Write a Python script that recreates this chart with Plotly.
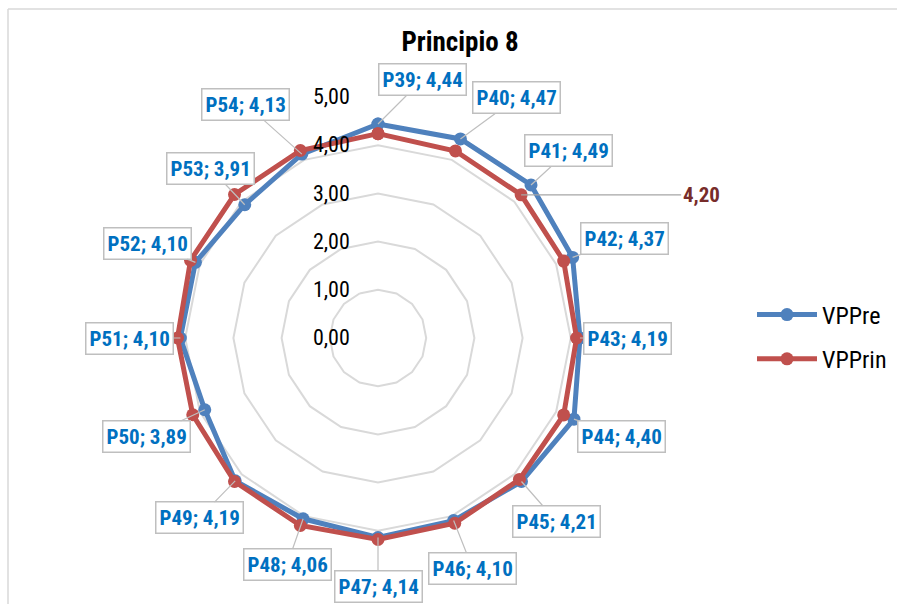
import math
import plotly.graph_objects as go

categories = ["P39", "P40", "P41", "P42", "P43", "P44", "P45", "P46",
              "P47", "P48", "P49", "P50", "P51", "P52", "P53", "P54"]
vppre = [4.44, 4.47, 4.49, 4.37, 4.19, 4.40, 4.21, 4.10,
         4.14, 4.06, 4.19, 3.89, 4.10, 4.10, 3.91, 4.13]
vpprin = [4.24, 4.20, 4.20, 4.17, 4.12, 4.17, 4.15, 4.16,
          4.18, 4.21, 4.21, 4.16, 4.16, 4.21, 4.21, 4.21]
radial_ticks = [0, 1, 2, 3, 4, 5]
highlight_index = 2  # the VPPrin point that carries its own label

# label offsets (pixels) of the callout boxes relative to their points
label_offsets = [(44, -44), (56, -41), (37, -34), (52, -19), (48, 0), (48, 17),
                 (35, 40), (19, 48), (0, 49), (-16, 46), (-36, 37), (-58, 27),
                 (-51, 0), (-48, -19), (-34, -36), (-56, -50)]

W, H = 897, 604
cx, cy, R = 378, 338, 241
dom_x = [(cx - R) / W, (cx + R) / W]
dom_y = [(H - cy - R) / H, (H - cy + R) / H]

BLUE = "#4F81BD"
RED = "#C0504D"
FONT = "Liberation Sans Narrow, Arial Narrow, Roboto Condensed, Liberation Sans, Arial, sans-serif"

fig = go.Figure()
theta_closed = categories + [categories[0]]
fig.add_trace(go.Scatterpolar(
    r=vppre + [vppre[0]], theta=theta_closed, name="VPPre", mode="lines+markers",
    legendgroup="a", line=dict(color=BLUE, width=5), marker=dict(size=13, color=BLUE)))
fig.add_trace(go.Scatterpolar(
    r=vpprin + [vpprin[0]], theta=theta_closed, name="VPPrin", mode="lines+markers",
    legendgroup="b", line=dict(color=RED, width=5), marker=dict(size=13, color=RED)))

n = len(categories)
annotations = []
for i, (cat, v) in enumerate(zip(categories, vppre)):
    ang = 2 * math.pi * i / n
    ax_, ay_ = label_offsets[i]
    annotations.append(dict(
        x=v * math.sin(ang), y=v * math.cos(ang), xref="x", yref="y",
        text=f"{cat}; {v:.2f}".replace(".", ","), showarrow=True,
        ax=ax_, ay=ay_, arrowhead=0, arrowwidth=1.2, arrowcolor="#BFBFBF",
        font=dict(family=FONT, size=21, color="#0070C0", weight="bold"),
        bgcolor="white", bordercolor="#BFBFBF", borderwidth=1.5, borderpad=3))

hv = vpprin[highlight_index]
hang = 2 * math.pi * highlight_index / n
annotations.append(dict(
    x=hv * math.sin(hang), y=hv * math.cos(hang), xref="x", yref="y",
    text=f"{hv:.2f}".replace(".", ","), showarrow=True, ax=180, ay=0,
    arrowhead=0, arrowwidth=1.2, arrowcolor="#A6A6A6",
    font=dict(family=FONT, size=21, color="#772C2A", weight="bold")))

fig.update_layout(
    width=W, height=H, margin=dict(l=0, r=0, t=0, b=0),
    paper_bgcolor="white", plot_bgcolor="rgba(0,0,0,0)",
    separators=",.",
    title=dict(text="<b>Principio 8</b>", x=460 / W, xanchor="center",
               y=1 - 42 / H, yanchor="middle",
               font=dict(family=FONT, size=27, color="black")),
    polar=dict(
        domain=dict(x=dom_x, y=dom_y),
        bgcolor="rgba(0,0,0,0)",
        gridshape="linear",
        radialaxis=dict(range=[0, 5], tickvals=radial_ticks, tickformat=".2f",
                        angle=90, tickangle=90, side="counterclockwise",
                        showline=False, ticks="outside", ticklen=20,
                        tickcolor="rgba(0,0,0,0)", gridcolor="#D9D9D9", gridwidth=1.5,
                        tickfont=dict(family=FONT, size=22, color="black")),
        angularaxis=dict(direction="clockwise", rotation=90, showticklabels=False,
                         ticks="", showgrid=False, showline=False),
    ),
    xaxis=dict(domain=dom_x, range=[-5, 5], visible=False, fixedrange=True),
    yaxis=dict(domain=dom_y, range=[-5, 5], visible=False, fixedrange=True),
    legend=dict(x=752 / W, y=1 - 337 / H, xanchor="left", yanchor="middle",
                font=dict(family=FONT, size=24, color="black"),
                traceorder="grouped", itemwidth=60, tracegroupgap=10),
    annotations=annotations,
    shapes=[
        dict(type="line", xref="paper", yref="paper", x0=8 / W, x1=1, y0=1 - 9 / H, y1=1 - 9 / H,
             line=dict(color="#D9D9D9", width=1.5)),
        dict(type="line", xref="paper", yref="paper", x0=8 / W, x1=8 / W, y0=0, y1=1 - 9 / H,
             line=dict(color="#D9D9D9", width=1.5)),
    ],
)
fig.write_html("out.html", config={"displayModeBar": False},
               post_script="document.body.style.margin='0';")
